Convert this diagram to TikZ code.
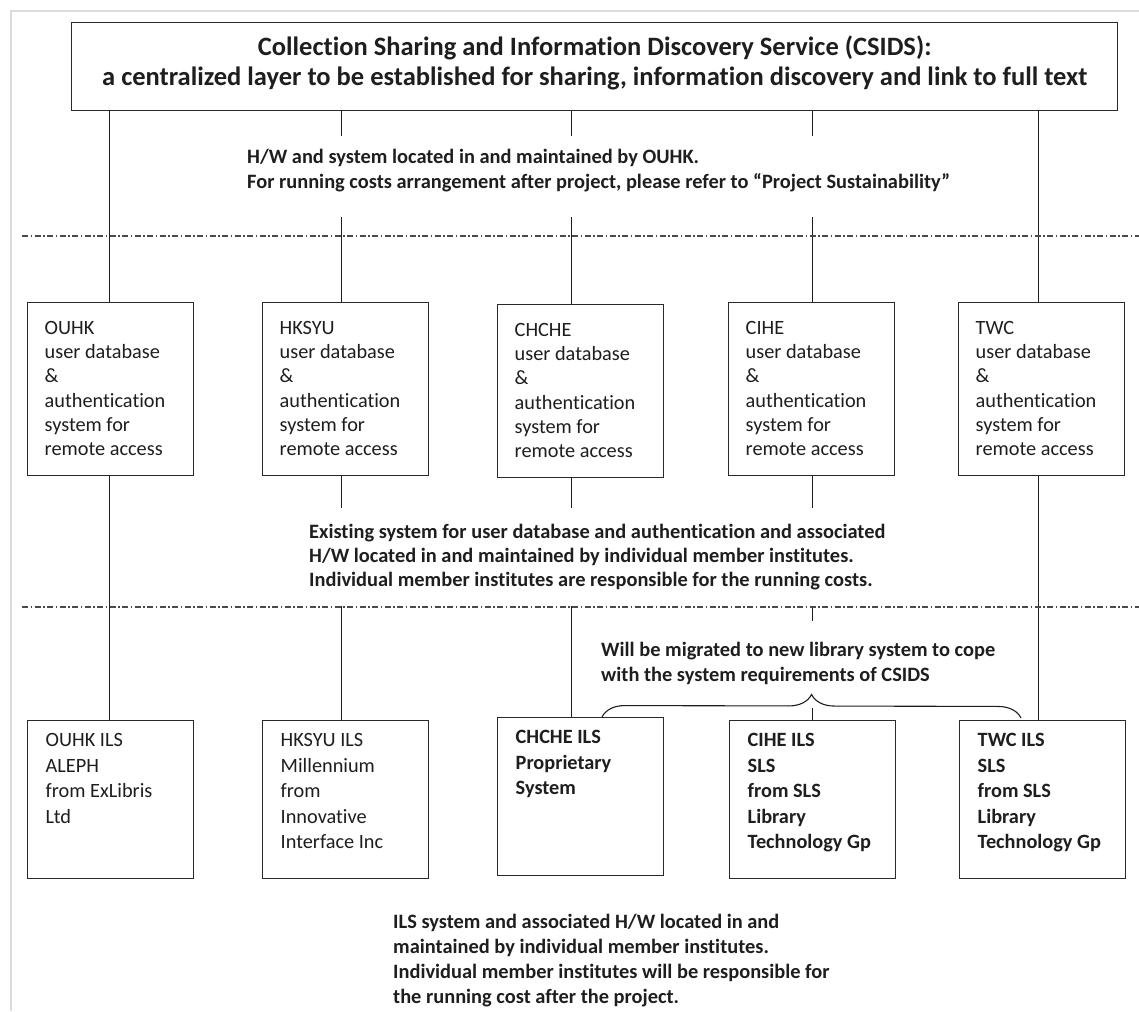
\documentclass[tikz,border=0pt]{standalone}
\usepackage{fontspec}
\setmainfont{Carlito}[Ligatures=NoCommon]
\usetikzlibrary{decorations.pathreplacing}
\definecolor{ink}{HTML}{1E1E1E}
\definecolor{boxline}{HTML}{2A2A2A}
\definecolor{pageline}{HTML}{DCDCDC}
\definecolor{sepcol}{HTML}{4A4A4A}
\newcommand{\mkcell}[3]{\parbox[t][#1][t]{#2}{\raggedright\strut #3}}
\begin{document}
\begin{tikzpicture}[x=1pt,y=-1pt,
  conn/.style={draw=ink,line width=1.1pt},
  sepline/.style={draw=sepcol,line width=1.2pt,dash pattern=on 6pt off 2.5pt on 1.5pt off 2.5pt},
  frameline/.style={draw=pageline,line width=1.5pt},
  unit/.style={draw=boxline,line width=1.4pt,fill=white,anchor=north west,inner xsep=17pt,inner ysep=14.5pt,text=ink,font=\fontsize{20.3pt}{24.3pt}\selectfont},
  ils/.style={draw=boxline,line width=1.4pt,fill=white,anchor=north west,inner xsep=18pt,inner ysep=8.15pt,text=ink,font=\fontsize{20.3pt}{25.5pt}\selectfont},
  ilsb/.style={ils,font=\bfseries\fontsize{20.3pt}{25.5pt}\selectfont},
  note/.style={fill=white,anchor=north west,text=ink,font=\bfseries\fontsize{20.4pt}{25pt}\selectfont},
  bracestyle/.style={draw=ink,line width=1.1pt,decorate,decoration={brace,amplitude=23pt}}
]
\useasboundingbox (0,0) rectangle (1139,1011);
\fill[white] (0,0) rectangle (1139,1011);
\draw[frameline] (11,1011) -- (11,11) -- (1139,11);

% top layer
\node[draw=boxline,line width=1.4pt,anchor=north west,inner xsep=21pt,inner ysep=12pt,text=ink,
      font=\bfseries\fontsize{26.5pt}{30pt}\selectfont] (top) at (71,22)
  {\parbox[t][64pt][t]{1004pt}{\centering\strut Collection Sharing and Information Discovery Service (CSIDS):\\a centralized layer to be established for sharing, information discovery and link to full text}};

% middle layer
\node[unit] (m1) at (27,302)  {\mkcell{144pt}{132pt}{OUHK\\user database\\\&\\authentication\\system for\\remote access}};
\node[unit] (m2) at (262,302) {\mkcell{144pt}{132pt}{HKSYU\\user database\\\&\\authentication\\system for\\remote access}};
\node[unit] (m3) at (497,304) {\mkcell{144pt}{132pt}{CHCHE\\user database\\\&\\authentication\\system for\\remote access}};
\node[unit] (m4) at (728,302) {\mkcell{144pt}{132pt}{CIHE\\user database\\\&\\authentication\\system for\\remote access}};
\node[unit] (m5) at (958,302) {\mkcell{144pt}{132pt}{TWC\\user database\\\&\\authentication\\system for\\remote access}};

% bottom layer
\node[ils]  (b1) at (27,720)  {\mkcell{141.7pt}{130pt}{OUHK ILS\\ALEPH\\from ExLibris\\Ltd}};
\node[ils]  (b2) at (262,720) {\mkcell{141.7pt}{130pt}{HKSYU ILS\\Millennium\\from\\Innovative\\Interface Inc}};
\node[ilsb] (b3) at (497,717) {\mkcell{141.7pt}{130pt}{CHCHE ILS\\Proprietary\\System}};
\node[ilsb] (b4) at (729,720) {\mkcell{141.7pt}{130pt}{CIHE ILS\\SLS\\from SLS\\Library\\Technology Gp}};
\node[ilsb] (b5) at (959,720) {\mkcell{141.7pt}{130pt}{TWC ILS\\SLS\\from SLS\\Library\\Technology Gp}};

% connectors top -> middle
\draw[conn] ([xshift=-1pt]m1.north) -- ([xshift=-1pt]m1.north |- top.south);
\draw[conn] ([xshift=-4pt]m2.north) -- ([xshift=-4pt]m2.north |- top.south);
\draw[conn] ([xshift=-9pt]m3.north) -- ([xshift=-9pt]m3.north |- top.south);
\draw[conn] ([xshift=1pt]m4.north) -- ([xshift=1pt]m4.north |- top.south);
\draw[conn] ([xshift=-3pt]m5.north) -- ([xshift=-3pt]m5.north |- top.south);

% connectors middle -> bottom
\draw[conn] ([xshift=-1pt]m1.south) -- ([xshift=-1pt]m1.south |- b1.north);
\draw[conn] ([xshift=-4pt]m2.south) -- ([xshift=-4pt]m2.south |- b2.north);
\draw[conn] ([xshift=-9pt]m3.south) -- ([xshift=-9pt]m3.south |- b3.north);
\draw[conn] ([xshift=1pt]m4.south) -- ([xshift=1pt]m4.south |- b4.north);
\draw[conn] ([xshift=-3pt]m5.south) -- ([xshift=-3pt]m5.south |- b5.north);

% annotations (white text boxes over the connectors)
\node[note,inner xsep=7pt,inner ysep=9.5pt] (hwnote) at (240,136)
  {\mkcell{62pt}{750pt}{H/W and system located in and maintained by OUHK.\\For running costs arrangement after project, please refer to “Project Sustainability”}};
\node[note,inner xsep=8pt,inner ysep=13.2pt,font=\bfseries\fontsize{20.4pt}{24pt}\selectfont] (exnote) at (301,508)
  {\mkcell{71.6pt}{590pt}{Existing system for user database and authentication and associated\\H/W located in and maintained by individual member institutes.\\Individual member institutes are responsible for the running costs.}};
\node[note,inner xsep=9pt,inner ysep=17.5pt] (willnote) at (592,621)
  {\mkcell{52pt}{410pt}{Will be migrated to new library system to cope\\with the system requirements of CSIDS}};
\node[anchor=base west,inner sep=0pt,text=ink,font=\bfseries\fontsize{20.4pt}{25pt}\selectfont] (ilsnote) at (393,928)
  {\parbox[t]{460pt}{\raggedright\strut ILS system and associated H/W located in and\\maintained by individual member institutes.\\Individual member institutes will be responsible for\\the running cost after the project.}};

% separators
\coordinate (s1a) at (22,236);  \coordinate (s1b) at (1139,236);
\coordinate (s2a) at (22,607);  \coordinate (s2b) at (1139,607);
\draw[sepline] (s1a) -- (s1b);
\draw[sepline] (s2a) -- (s2b);

% brace
\coordinate (brl) at (602,717);
\coordinate (brr) at (1021,718);
\draw[bracestyle] (brl) -- (brr);
\end{tikzpicture}
\end{document}
